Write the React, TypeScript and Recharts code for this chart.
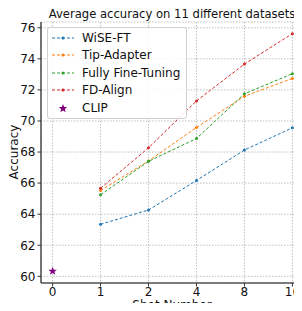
import React from 'react';
import {
  LineChart,
  Line,
  XAxis,
  YAxis,
  CartesianGrid,
} from 'recharts';

const shots = ['0', '1', '2', '4', '8', '16'];
const wiseFt = [null, 63.35, 64.27, 66.17, 68.13, 69.56];
const tipAdapter = [null, 65.52, 67.43, 69.58, 71.59, 72.74];
const fullyFt = [null, 65.25, 67.4, 68.87, 71.75, 73.04];
const fdAlign = [null, 65.67, 68.27, 71.29, 73.66, 75.62];
const clip = [60.33, null, null, null, null, null];
const yTicks = [60, 62, 64, 66, 68, 70, 72, 74, 76];

const SERIES = [
  { key: 'wise', label: 'WiSE-FT', color: '#1f77b4' },
  { key: 'tip', label: 'Tip-Adapter', color: '#ff7f0e' },
  { key: 'full', label: 'Fully Fine-Tuning', color: '#2ca02c' },
  { key: 'fd', label: 'FD-Align', color: '#d62728' },
];

const data = shots.map((s, i) => ({
  shot: s,
  wise: wiseFt[i],
  tip: tipAdapter[i],
  full: fullyFt[i],
  fd: fdAlign[i],
  clip: clip[i],
}));

const FONT = '"DejaVu Sans", sans-serif';

const Star = (props: any) => {
  const { cx, cy } = props;
  if (cx == null || cy == null || props.value == null) return null;
  const pts: string[] = [];
  for (let i = 0; i < 10; i++) {
    const r = i % 2 === 0 ? 4.5 : 1.9;
    const a = -Math.PI / 2 + (i * Math.PI) / 5;
    pts.push(`${cx + r * Math.cos(a)},${cy + r * Math.sin(a)}`);
  }
  return <polygon points={pts.join(' ')} fill="#800080" />;
};

const LegendBox = () => (
  <div
    style={{
      position: 'absolute',
      left: 47,
      top: 27,
      background: 'rgba(255,255,255,0.85)',
      border: '1px solid #d0d0d0',
      borderRadius: 3,
      padding: '1px 0 1px 3px',
      width: 140,
      fontFamily: FONT,
      fontSize: 12,
      color: '#111',
      boxSizing: 'border-box',
    }}
  >
    {SERIES.map((s) => (
      <div key={s.key} style={{ display: 'flex', alignItems: 'center', height: 17.5, whiteSpace: 'nowrap' }}>
        <svg width={30} height={10} style={{ marginRight: 1 }}>
          <line x1={1} y1={5} x2={23} y2={5} stroke={s.color} strokeWidth={1.2} strokeDasharray="3 2" />
          <circle cx={12} cy={5} r={1.6} fill={s.color} />
        </svg>
        {s.label}
      </div>
    ))}
    <div style={{ display: 'flex', alignItems: 'center', height: 17.5 }}>
      <svg width={30} height={10} style={{ marginRight: 1 }}>
        <Star cx={12} cy={5.5} value={1} />
      </svg>
      CLIP
    </div>
  </div>
);

const textStyle: React.CSSProperties = {
  position: 'absolute',
  fontFamily: FONT,
  fontSize: 12,
  lineHeight: '12px',
  color: '#111',
  whiteSpace: 'nowrap',
};

export default function App() {
  return (
    <div style={{ margin: -8, width: 302, height: 311, overflow: 'hidden', position: 'relative', background: '#fff' }}>
      <div style={{ ...textStyle, fontSize: 11.6, top: 8, left: 41, width: 262, textAlign: 'center' }}>
        Average accuracy on 11 different datasets
      </div>
      <LineChart
        width={310}
        height={311}
        data={data}
        margin={{ top: 22, right: 6, left: 0, bottom: 0 }}
      >
        <CartesianGrid stroke="#b0b0b0" strokeDasharray="1.5 1.5" strokeWidth={0.8} />
        <XAxis
          dataKey="shot"
          type="category"
          interval={0}
          padding={{ left: 11.6, right: 11.6 }}
          height={28}
          tick={{ fontSize: 12, fill: '#111', fontFamily: FONT }}
          tickLine={{ stroke: '#333' }}
          tickSize={3.5}
          tickMargin={1}
          axisLine={{ stroke: '#555', strokeWidth: 1.6 }}
        />
        <XAxis
          xAxisId="top"
          dataKey="shot"
          orientation="top"
          height={0}
          tick={false}
          tickLine={false}
          axisLine={{ stroke: '#555', strokeWidth: 1 }}
        />
        <YAxis
          width={41}
          domain={[59.57, 76.37]}
          ticks={yTicks}
          interval={0}
          allowDataOverflow
          tick={{ fontSize: 12, fill: '#111', fontFamily: FONT }}
          tickLine={{ stroke: '#333' }}
          tickSize={3.5}
          axisLine={{ stroke: '#555', strokeWidth: 1.6 }}
        />
        {SERIES.map((s) => (
          <Line
            key={s.key}
            dataKey={s.key}
            stroke={s.color}
            strokeWidth={1}
            strokeDasharray="3 2"
            dot={{ r: 1.5, fill: s.color, stroke: 'none' }}
            activeDot={false}
            connectNulls={false}
            type="linear"
            isAnimationActive={false}
          />
        ))}
        <Line
          dataKey="clip"
          stroke="none"
          dot={<Star />}
          activeDot={false}
          isAnimationActive={false}
        />
      </LineChart>
      <LegendBox />
      <div style={{ ...textStyle, top: 299, left: 41, width: 262, textAlign: 'center' }}>Shot Number</div>
      <div
        style={{
          ...textStyle,
          top: 146,
          left: -16,
          width: 60,
          textAlign: 'center',
          transform: 'rotate(-90deg)',
        }}
      >
        Accuracy
      </div>
    </div>
  );
}
